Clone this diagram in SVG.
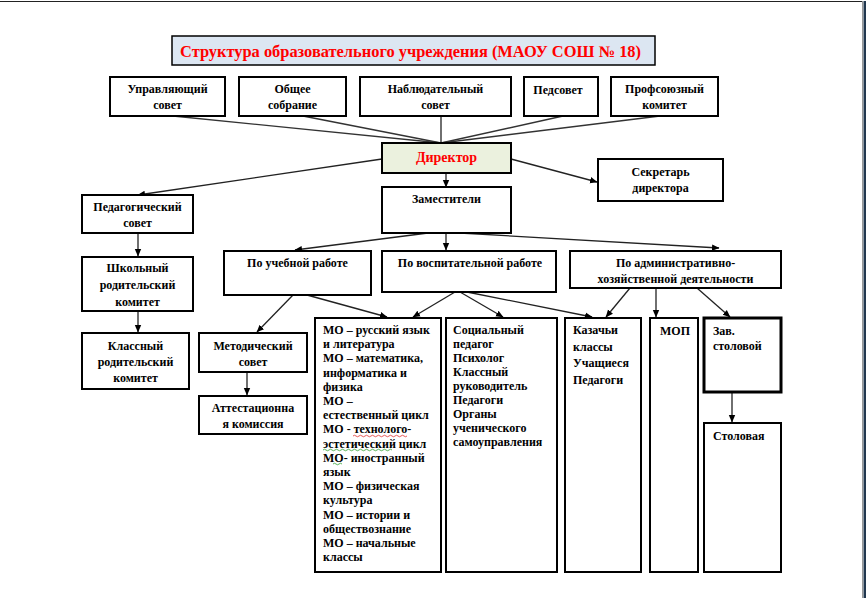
<svg xmlns="http://www.w3.org/2000/svg" width="866" height="598" viewBox="0 0 866 598">
<defs>
<marker id="arr" markerWidth="8" markerHeight="8" refX="7" refY="4" orient="auto" markerUnits="userSpaceOnUse">
<path d="M0,0.8 L7.5,4 L0,7.2 Z" fill="#000"/>
</marker>
<style>
.box{fill:#fff;stroke:#000;stroke-width:2}
text{font-family:'Liberation Serif','Times New Roman',Times,'DejaVu Serif',serif;font-weight:bold;fill:#000}
.t{font-size:12px}
.c{text-anchor:middle}
.red{fill:#ff0000}
.big{font-size:16px}
.dir{font-size:14px}
.ln{stroke:#333;stroke-width:1.4;fill:none}
.ar{stroke:#222;stroke-width:1.3;fill:none;marker-end:url(#arr)}
.wav{fill:none;stroke-width:0.8}
</style>
</defs>
<rect x="0" y="0" width="866" height="598" fill="#fff"/>
<!-- page frame -->
<line x1="0" y1="1.5" x2="863" y2="1.5" stroke="#222" stroke-width="1.2"/>
<line x1="862.5" y1="1" x2="862.5" y2="598" stroke="#999" stroke-width="1"/>
<rect x="863.5" y="1" width="2.5" height="597" fill="#22384f"/>

<g id="connectors">
<line class="ln" x1="173" y1="116" x2="441" y2="143"/>
<line class="ln" x1="303" y1="116" x2="441" y2="143"/>
<line class="ln" x1="441" y1="116" x2="441" y2="143"/>
<line class="ln" x1="563" y1="116" x2="441" y2="143"/>
<line class="ln" x1="660" y1="116" x2="441" y2="143"/>
<line x1="432" y1="93" x2="432" y2="104" stroke="#000" stroke-width="1.2"/>
<line x1="430" y1="93" x2="435" y2="93" stroke="#000" stroke-width="1"/>
<line class="ar" x1="382" y1="159" x2="138" y2="195"/>
<line class="ar" x1="511" y1="159" x2="597" y2="182"/>
<line class="ar" x1="446" y1="173" x2="446" y2="187"/>
<line class="ar" x1="138" y1="233" x2="138" y2="256"/>
<line class="ar" x1="138" y1="311" x2="138" y2="332"/>
<line class="ar" x1="428" y1="233" x2="295" y2="250"/>
<line class="ar" x1="446" y1="233" x2="446" y2="250"/>
<line class="ar" x1="460" y1="233" x2="719" y2="248"/>
<line class="ar" x1="293" y1="295" x2="257" y2="332"/>
<line class="ar" x1="307" y1="295" x2="387" y2="317"/>
<line class="ar" x1="455" y1="292" x2="413" y2="317"/>
<line class="ar" x1="460" y1="292" x2="503" y2="317"/>
<line class="ar" x1="467" y1="292" x2="592" y2="317"/>
<line class="ar" x1="630" y1="288" x2="606" y2="317"/>
<line class="ar" x1="656" y1="288" x2="656" y2="317"/>
<line class="ar" x1="697" y1="288" x2="730" y2="317"/>
<line class="ar" x1="247" y1="372" x2="247" y2="395"/>
<line class="ar" x1="732" y1="392" x2="732" y2="422"/>
</g>

<g id="title">
<rect x="172" y="36" width="483" height="29" fill="#dce6f2" stroke="#000" stroke-width="1.5"/>
<text class="big red c" x="410.5" y="57" textLength="461" lengthAdjust="spacingAndGlyphs">Структура образовательного учреждения (МАОУ СОШ № 18)</text>
</g>

<g id="n-upr">
<rect class="box" x="110" y="77" width="115" height="39"/>
<text class="t c" x="167.5" y="93">Управляющий</text>
<text class="t c" x="167.5" y="109">совет</text>
</g>
<g id="n-obsh">
<rect class="box" x="239" y="77" width="107" height="39"/>
<text class="t c" x="292.5" y="93">Общее</text>
<text class="t c" x="292.5" y="109">собрание</text>
</g>
<g id="n-nabl">
<rect class="box" x="360" y="77" width="151" height="39" fill="none"/>
<text class="t c" x="435.5" y="93">Наблюдательный</text>
<text class="t c" x="435.5" y="109">совет</text>
</g>
<g id="n-ped">
<rect class="box" x="524" y="77" width="74" height="39"/>
<text class="t c" x="558" y="94">Педсовет</text>
</g>
<g id="n-prof">
<rect class="box" x="611" y="77" width="107" height="39"/>
<text class="t c" x="664.5" y="93">Профсоюзный</text>
<text class="t c" x="664.5" y="109">комитет</text>
</g>

<g id="n-dir">
<rect x="382" y="143" width="129" height="30" fill="#ebf1de" stroke="#000" stroke-width="2"/>
<text class="dir red c" x="446.5" y="162">Директор</text>
</g>
<g id="n-sekr">
<rect class="box" x="598" y="159" width="125" height="42"/>
<text class="t c" x="660.5" y="176">Секретарь</text>
<text class="t c" x="660.5" y="192">директора</text>
</g>
<g id="n-zam">
<rect class="box" x="382" y="187" width="129" height="46"/>
<text class="t c" x="446.5" y="203">Заместители</text>
</g>

<g id="n-pedsov">
<rect class="box" x="82" y="195" width="111" height="38"/>
<text class="t c" x="137.5" y="211">Педагогический</text>
<text class="t c" x="137.5" y="227">совет</text>
</g>
<g id="n-shrk">
<rect class="box" x="82" y="257" width="111" height="54"/>
<text class="t c" x="137.5" y="272">Школьный</text>
<text class="t c" x="137.5" y="289">родительский</text>
<text class="t c" x="137.5" y="306">комитет</text>
</g>
<g id="n-klrk">
<rect class="box" x="82" y="333" width="107" height="56"/>
<text class="t c" x="135.5" y="350">Классный</text>
<text class="t c" x="135.5" y="366">родительский</text>
<text class="t c" x="135.5" y="382">комитет</text>
</g>

<g id="n-ucheb">
<rect class="box" x="224" y="251" width="147" height="44"/>
<text class="t c" x="297.5" y="267">По учебной работе</text>
</g>
<g id="n-vosp">
<rect class="box" x="382" y="251" width="174" height="41"/>
<text class="t c" x="470" y="267">По воспитательной работе</text>
</g>
<g id="n-adm">
<rect class="box" x="570" y="251" width="211" height="37"/>
<text class="t c" x="675.5" y="267">По административно-</text>
<text class="t c" x="675.5" y="283">хозяйственной деятельности</text>
</g>

<g id="n-metod">
<rect class="box" x="199" y="333" width="108" height="39"/>
<text class="t c" x="253" y="350">Методический</text>
<text class="t c" x="253" y="366">совет</text>
</g>
<g id="n-att">
<rect class="box" x="199" y="396" width="108" height="38"/>
<text class="t c" x="253" y="412">Аттестационна</text>
<text class="t c" x="253" y="428">я комиссия</text>
</g>

<g id="n-mo">
<rect class="box" x="315" y="318" width="126" height="254"/>
<text class="t" x="323" y="334">МО – русский язык<tspan x="323" dy="14.2">и литература</tspan><tspan x="323" dy="14.2">МО – математика,</tspan><tspan x="323" dy="14.2">информатика и</tspan><tspan x="323" dy="14.2">физика</tspan><tspan x="323" dy="14.2">МО –</tspan><tspan x="323" dy="14.2">естественный  цикл</tspan><tspan x="323" dy="14.2">МО - технолого-</tspan><tspan x="323" dy="14.2">эстетический  цикл</tspan><tspan x="323" dy="14.2">МО- иностранный</tspan><tspan x="323" dy="14.2">язык</tspan><tspan x="323" dy="14.2">МО – физическая</tspan><tspan x="323" dy="14.2">культура</tspan><tspan x="323" dy="14.2">МО – истории и</tspan><tspan x="323" dy="14.2">обществознание</tspan><tspan x="323" dy="14.2">МО – начальные</tspan><tspan x="323" dy="14.2">классы</tspan></text>
<path class="wav" stroke="#e03030" d="M353,436 q1.5,-1.5 3,0 t3,0 t3,0 t3,0 t3,0 t3,0 t3,0 t3,0 t3,0 t3,0 t3,0 t3,0 t3,0 t3,0 t3,0 t3,0 t3,0 t3,0"/>
<path class="wav" stroke="#30a030" d="M323,450 q1.5,-1.5 3,0 t3,0 t3,0 t3,0 t3,0 t3,0 t3,0 t3,0 t3,0 t3,0 t3,0 t3,0 t3,0 t3,0 t3,0 t3,0 t3,0 t3,0 t3,0 t3,0 t3,0 t3,0 t3,0"/>
<path class="wav" stroke="#30a030" d="M333,464 q1.5,-1.5 3,0 t3,0 t3,0"/>
</g>
<g id="n-soc">
<rect class="box" x="446" y="318" width="111" height="254"/>
<text class="t" x="453" y="334">Социальный<tspan x="453" dy="14">педагог</tspan><tspan x="453" dy="14">Психолог</tspan><tspan x="453" dy="14">Классный</tspan><tspan x="453" dy="14">руководитель</tspan><tspan x="453" dy="14">Педагоги</tspan><tspan x="453" dy="14">Органы</tspan><tspan x="453" dy="14">ученического</tspan><tspan x="453" dy="14">самоуправления</tspan></text>
</g>
<g id="n-kaz">
<rect class="box" x="565" y="318" width="76" height="254"/>
<text class="t" x="573" y="334">Казачьи<tspan x="573" dy="16.7">классы</tspan><tspan x="573" dy="16.7">Учащиеся</tspan><tspan x="573" dy="16.7">Педагоги</tspan></text>
</g>
<g id="n-mop">
<rect class="box" x="650" y="318" width="48" height="254"/>
<text class="t" x="660" y="335">МОП</text>
</g>
<g id="n-zav">
<rect x="704" y="318" width="77" height="74" fill="#fff" stroke="#000" stroke-width="3"/>
<text class="t" x="713" y="335">Зав.</text>
<text class="t" x="713" y="350">столовой</text>
</g>
<g id="n-stol">
<rect class="box" x="704" y="423" width="77" height="149"/>
<text class="t" x="713" y="440">Столовая</text>
</g>
</svg>
